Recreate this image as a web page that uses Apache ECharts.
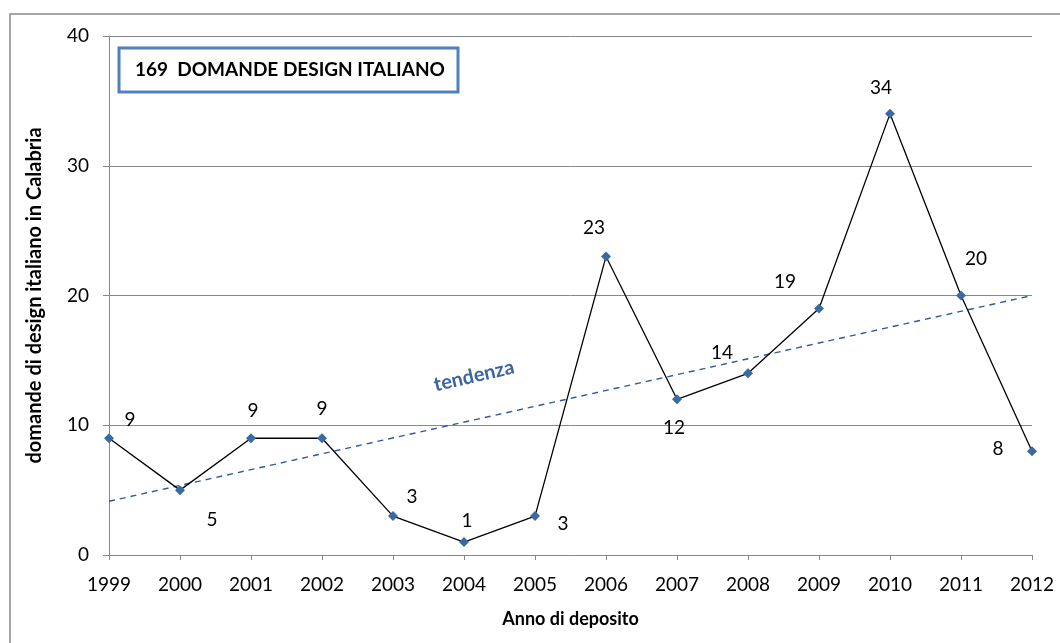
<!DOCTYPE html>
<html><head><meta charset="utf-8">
<script src="https://cdn.jsdelivr.net/npm/echarts@6/dist/echarts.min.js"></script>
<style>html,body{margin:0;padding:0;background:#fff}#c{width:1060px;height:643px}</style>
</head><body><div id="c"></div>
<script>
const years = ['1999','2000','2001','2002','2003','2004','2005','2006','2007','2008','2009','2010','2011','2012'];
const domande = [9,5,9,9,3,1,3,23,12,14,19,34,20,8];
const trendStart = 4.14;   // trend line value at 1999
const trendEnd = 20.0;     // trend line value at 2012
const yTicks = [0,10,20,30,40];
const titleText = '169  DOMANDE DESIGN ITALIANO';
const trendText = 'tendenza';
const xName = 'Anno di deposito';
const yName = 'domande di design italiano in Calabria';

const FONT = 'Lato';
const labelOffsets = [[21,-18],[32,30],[2,-27],[0,-29],[19,-19],[3,-21],[28,8],[-12,-29],[-3,29],[-26,-20],[-34,-27],[-9,-26],[15,-37],[-34,-2]];

const trendData = years.map((y,i)=> i===0 ? trendStart : (i===years.length-1 ? trendEnd : null));

const chart = echarts.init(document.getElementById('c'), null, {renderer:'canvas'});
chart.setOption({
  animation:false,
  backgroundColor:'#fff',
  grid:{left:109,right:28,top:36,bottom:88,containLabel:false},
  xAxis:{
    type:'category', data:years, boundaryGap:false,
    axisLine:{lineStyle:{color:'#888',width:1}},
    axisTick:{show:true,length:5,lineStyle:{color:'#888'}},
    axisLabel:{color:'#000',fontFamily:FONT,fontSize:19,margin:20},
    name:xName, nameLocation:'middle', nameGap:55,
    nameTextStyle:{color:'#000',fontFamily:FONT,fontSize:18,fontWeight:'bold'}
  },
  yAxis:{
    type:'value', min:yTicks[0], max:yTicks[yTicks.length-1], interval:10,
    axisLine:{show:true,lineStyle:{color:'#888',width:1}},
    axisTick:{show:true,length:6,lineStyle:{color:'#888'}},
    axisLabel:{color:'#000',fontFamily:FONT,fontSize:19,margin:20},
    splitLine:{lineStyle:{color:'#888',width:1}},
    name:yName, nameLocation:'middle', nameGap:64,
    nameTextStyle:{color:'#000',fontFamily:FONT,fontSize:20,fontWeight:'bold'}
  },
  graphic:[
    {type:'rect',shape:{x:10,y:14,width:1100,height:700},style:{fill:'none',stroke:'#8a8a8a',lineWidth:1.5},z:-1},
    {type:'rect',shape:{x:119,y:48,width:339,height:44},style:{fill:'#fff',stroke:'#4f81bd',lineWidth:3},z:10},
    {type:'text',x:135,y:70,style:{text:titleText,fontFamily:FONT,fontSize:19,fontWeight:'bold',fill:'#000',textVerticalAlign:'middle'},z:11},
    {type:'text',x:474,y:376,rotation:13*Math.PI/180,style:{text:trendText,fontFamily:FONT,fontSize:20,fontWeight:'bold',fill:'#3b64a0',textAlign:'center',textVerticalAlign:'middle'},z:11}
  ],
  series:[
    {
      type:'line', data:trendData, connectNulls:true, symbol:'none',
      lineStyle:{color:'#2f5b96',width:1.4,type:[6,5]}, z:2, silent:true
    },
    {
      type:'line',
      data:domande.map((v,i)=>({value:v,label:{offset:labelOffsets[i]}})),
      symbol:'diamond', symbolSize:10,
      itemStyle:{color:'#3a6aa3'},
      lineStyle:{color:'#000',width:1.3},
      label:{show:true,position:'inside',align:'center',verticalAlign:'middle',color:'#000',fontFamily:FONT,fontSize:19},
      z:3
    }
  ]
});
</script></body></html>
